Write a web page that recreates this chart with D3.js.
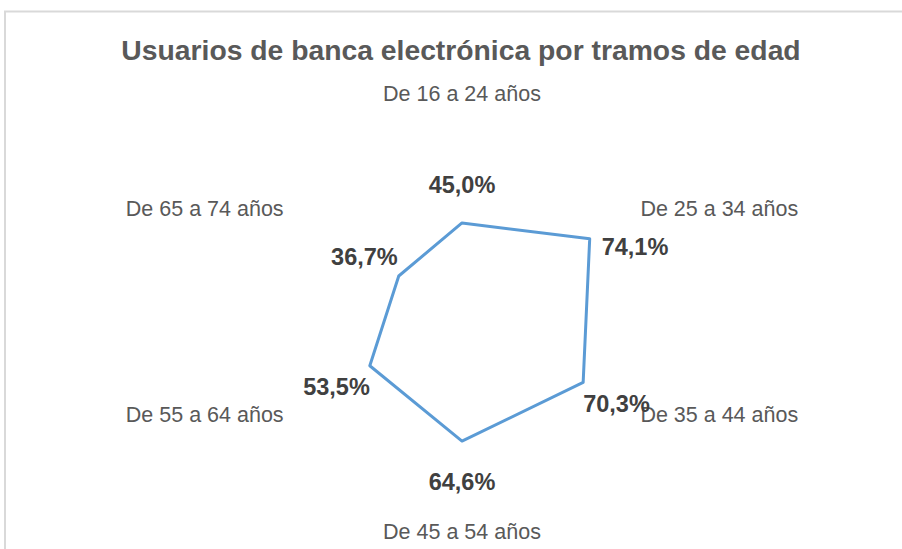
<!DOCTYPE html>
<html>
<head>
<meta charset="utf-8">
<script src="https://cdn.jsdelivr.net/npm/d3@7"></script>
<style>
  body { margin: 0; background: #fff; }
  svg { display: block; }
</style>
</head>
<body>
<svg id="svg" width="902" height="549"></svg>
<script>
var width = 902;
var height = 549;

// data
var categories = ['De 16 a 24 años', 'De 25 a 34 años', 'De 35 a 44 años',
                  'De 45 a 54 años', 'De 55 a 64 años', 'De 65 a 74 años'];
var values = [45.0, 74.1, 70.3, 64.6, 53.5, 36.7];
var valueLabels = ['45,0%', '74,1%', '70,3%', '64,6%', '53,5%', '36,7%'];

var cx = 462;
var cy = 312.5;
var font = 'Liberation Sans, Arial, sans-serif';

var svg = d3.select('svg');

// chart border (only top and left visible in the crop)
svg.append('path')
    .attr('d', 'M5,' + height + ' V11.5 H' + width)
    .attr('fill', 'none')
    .attr('stroke', '#d9d9d9')
    .attr('stroke-width', 2);

svg.append('text')
    .attr('x', 461)
    .attr('y', 60)
    .attr('text-anchor', 'middle')
    .attr('font-family', font)
    .attr('font-weight', 'bold')
    .attr('font-size', 28.3)
    .attr('fill', '#595959')
    .text('Usuarios de banca electrónica por tramos de edad');

var angle = d3.scaleBand()
    .domain(categories)
    .range([0, 2 * Math.PI]);

var r = d3.scaleLinear()
    .domain([0, 100])
    .range([0, 199]);

function px(cat, v) { return cx + r(v) * Math.sin(angle(cat)); }
function py(cat, v) { return cy - r(v) * Math.cos(angle(cat)); }

var line = d3.lineRadial()
    .angle(function(d, i){ return angle(categories[i]); })
    .radius(function(d){ return r(d); })
    .curve(d3.curveLinearClosed);

svg.append('path')
    .datum(values)
    .attr('transform', 'translate(' + cx + ',' + cy + ')')
    .attr('d', line)
    .attr('fill', 'none')
    .attr('stroke', '#5b9bd5')
    .attr('stroke-width', 3)
    .attr('stroke-linejoin', 'round');

// category labels
var labelR = 206;
svg.selectAll('.cat')
    .data(categories)
    .enter()
    .append('text')
    .attr('class', 'cat')
    .attr('x', function(d){ return cx + labelR * Math.sin(angle(d)); })
    .attr('y', function(d){
        var c = Math.cos(angle(d));
        var off = c > 0.9 ? -5.5 : c < -0.9 ? 20.5 : 6.5;
        return cy - labelR * c + off;
    })
    .attr('text-anchor', function(d){
        var s = Math.sin(angle(d));
        return s > 0.1 ? 'start' : s < -0.1 ? 'end' : 'middle';
    })
    .attr('font-family', font)
    .attr('font-size', 21.5)
    .attr('fill', '#595959')
    .text(function(d){ return d; });

// value labels
var labelPos = [
    {dx: 0, dy: -30, anchor: 'middle'},
    {dx: 12, dy: 16, anchor: 'start'},
    {dx: 0, dy: 30, anchor: 'start'},
    {dx: 0, dy: 49, anchor: 'middle'},
    {dx: 0, dy: 29, anchor: 'end'},
    {dx: -1, dy: -11, anchor: 'end'}
];

svg.selectAll('.val')
    .data(values)
    .enter()
    .append('text')
    .attr('class', 'val')
    .attr('x', function(d, i){ return px(categories[i], d) + labelPos[i].dx; })
    .attr('y', function(d, i){ return py(categories[i], d) + labelPos[i].dy; })
    .attr('text-anchor', function(d, i){ return labelPos[i].anchor; })
    .attr('font-family', font)
    .attr('font-weight', 'bold')
    .attr('font-size', 23.5)
    .attr('fill', '#404040')
    .text(function(d, i){ return valueLabels[i]; });
</script>
</body>
</html>
